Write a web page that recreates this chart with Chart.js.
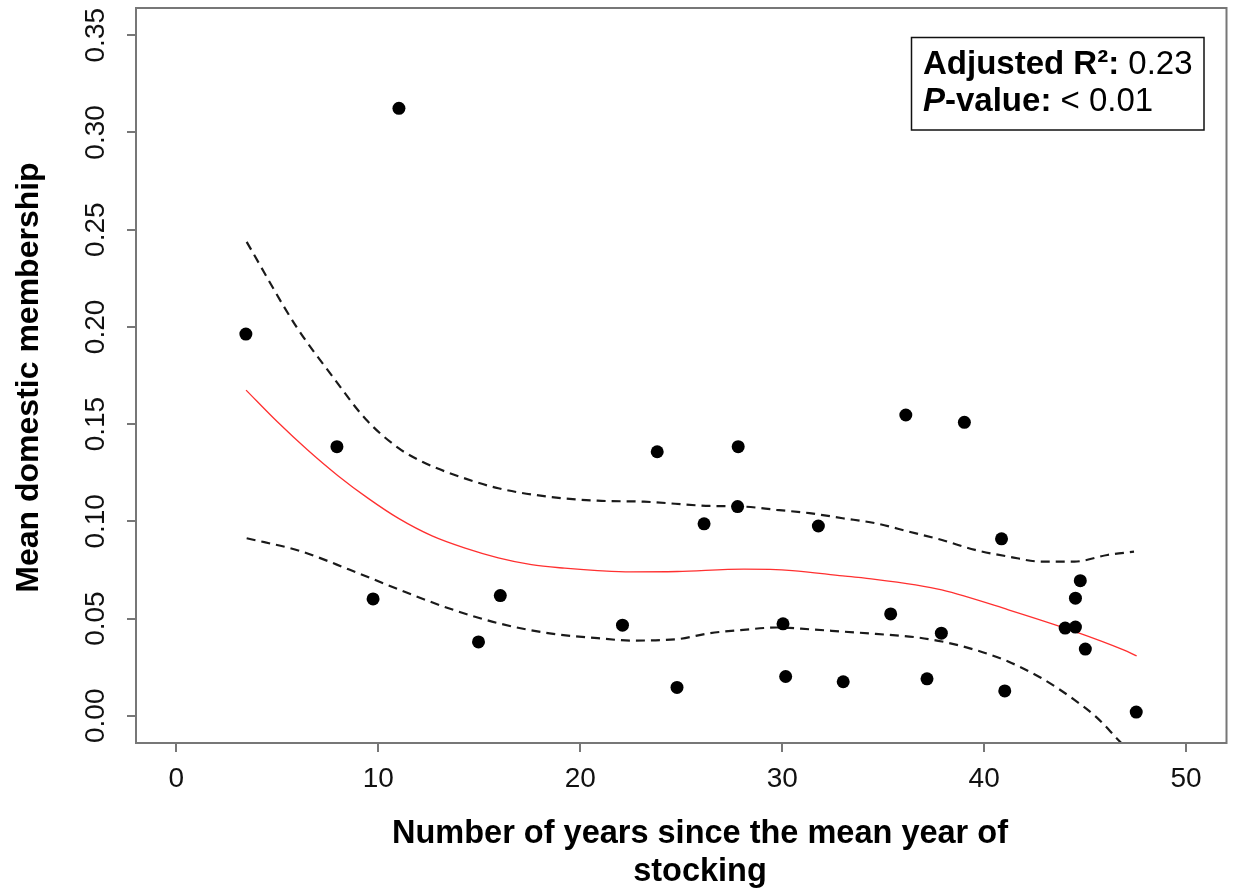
<!DOCTYPE html>
<html><head><meta charset="utf-8">
<script src="https://cdn.jsdelivr.net/npm/chart.js@4.4.1/dist/chart.umd.min.js"></script>
<style>html,body{margin:0;padding:0;background:#fff;}#wrap{width:1233px;height:890px;position:relative;}</style>
</head><body><div id="wrap"><canvas id="c" width="1233" height="890"></canvas></div>
<script>
// ---- data ----
const pointX = [3.44, 7.95, 9.74, 11.02, 14.96, 16.04, 22.09, 23.81, 24.79, 26.13, 27.82, 27.79, 30.04, 30.17, 31.79, 33.02, 35.37, 36.12, 37.17, 37.88, 39.02, 40.86, 41.02, 44.01, 44.52, 44.52, 44.76, 45.01, 47.53];
const pointY = [0.1963, 0.1384, 0.0601, 0.3124, 0.0380, 0.0618, 0.0466, 0.1358, 0.0146, 0.0987, 0.1384, 0.1076, 0.0473, 0.0202, 0.0976, 0.0175, 0.0524, 0.1547, 0.0190, 0.0425, 0.1509, 0.0910, 0.0128, 0.0451, 0.0605, 0.0456, 0.0695, 0.0343, 0.0019];

const fitX = [3.45, 5.0, 6.5, 8.0, 9.5, 11.0, 12.66, 14.3, 15.94, 17.58, 19.22, 20.86, 22.5, 24.8, 28.1, 30.5, 33.0, 34.6, 36.6, 37.9, 41.2, 44.5, 46.9, 47.55];
const fitY = [0.1675, 0.1512, 0.1367, 0.1235, 0.1118, 0.1015, 0.0925, 0.0862, 0.0812, 0.0777, 0.0759, 0.0747, 0.0740, 0.0742, 0.0754, 0.0747, 0.0719, 0.0702, 0.0673, 0.0647, 0.0545, 0.0433, 0.0339, 0.0308];

const upperX = [3.48, 5.94, 7.74, 9.38, 11.02, 12.2, 13.48, 15.94, 18.4, 20.86, 23.15, 26.43, 28.07, 29.71, 31.35, 32.99, 34.63, 36.27, 37.91, 39.55, 41.19, 42.83, 44.47, 46.1, 47.42];
const upperY = [0.2437, 0.2001, 0.1744, 0.1525, 0.1375, 0.1305, 0.1250, 0.1170, 0.1127, 0.1106, 0.1101, 0.1079, 0.1076, 0.1059, 0.1042, 0.1016, 0.0990, 0.0947, 0.0904, 0.0853, 0.0819, 0.0793, 0.0793, 0.0827, 0.0844];

const lowerX = [3.48, 6.1, 8.56, 11.02, 13.48, 15.94, 18.4, 20.86, 22.5, 24.79, 26.43, 28.07, 29.71, 31.35, 32.99, 34.63, 36.6, 37.91, 39.55, 41.19, 42.83, 44.47, 45.61, 46.63, 47.55];
const lowerY = [0.0913, 0.0848, 0.0752, 0.0649, 0.0553, 0.0476, 0.0425, 0.0399, 0.0387, 0.0394, 0.0425, 0.0442, 0.0454, 0.0445, 0.0433, 0.0421, 0.0404, 0.0382, 0.0339, 0.0279, 0.0194, 0.0082, -0.0012, -0.0123, -0.0220];

const xTicks = [0, 10, 20, 30, 40, 50];
const xTickLabels = ['0', '10', '20', '30', '40', '50'];
const yTicks = [0, 0.05, 0.10, 0.15, 0.20, 0.25, 0.30, 0.35];
const yTickLabels = ['0.00', '0.05', '0.10', '0.15', '0.20', '0.25', '0.30', '0.35'];

const xTitleLines = ['Number of years since the mean year of', 'stocking'];
const yTitle = 'Mean domestic membership';
const statLine1 = [['Adjusted R\u00B2:', 'bold'], [' 0.23', 'normal']];
const statLine2 = [['P', 'italic bold'], ['-value:', 'bold'], [' < 0.01', 'normal']];

// ---- chart ----
const FONT = "'Liberation Sans', Arial, sans-serif";
const AXIS_GREY = '#777777';
function pairs(xs, ys) { return xs.map((x, i) => ({ x: x, y: ys[i] })); }
function zeroPad(s) { s.paddingTop = 0; s.paddingBottom = 0; s.paddingLeft = 0; s.paddingRight = 0; }

const decor = {
  id: 'decor',
  afterDraw(chart) {
    const ctx = chart.ctx;
    const a = chart.chartArea;
    ctx.save();
    // plot frame
    ctx.strokeStyle = AXIS_GREY;
    ctx.lineWidth = 2;
    ctx.strokeRect(a.left, a.top, a.right - a.left, a.bottom - a.top);
    // x title
    ctx.fillStyle = '#000';
    ctx.font = "bold 32.5px " + FONT;
    ctx.textAlign = 'center';
    ctx.textBaseline = 'alphabetic';
    ctx.fillText(xTitleLines[0], 700, 843);
    ctx.fillText(xTitleLines[1], 700, 881);
    // y title
    ctx.save();
    ctx.translate(38, 377.5);
    ctx.rotate(-Math.PI / 2);
    ctx.font = "bold 32px " + FONT;
    ctx.fillText(yTitle, 0, 0);
    ctx.restore();
    // stats box
    ctx.strokeStyle = '#111';
    ctx.lineWidth = 1.5;
    ctx.strokeRect(911.5, 37.5, 292.5, 92.5);
    ctx.textAlign = 'left';
    function drawRuns(runs, x, y) {
      runs.forEach(r => {
        ctx.font = r[1] + " 33px " + FONT;
        ctx.fillText(r[0], x, y);
        x += ctx.measureText(r[0]).width;
      });
    }
    drawRuns(statLine1, 923, 74);
    drawRuns(statLine2, 923, 110.5);
    ctx.restore();
  }
};

new Chart(document.getElementById('c'), {
  type: 'scatter',
  data: {
    datasets: [
      { data: pairs(pointX, pointY), pointRadius: 6.5, pointBorderWidth: 0, backgroundColor: '#000', borderColor: '#000', showLine: false, order: 0 },
      { data: pairs(fitX, fitY), showLine: true, pointRadius: 0, borderColor: '#ff3030', borderWidth: 1.3, cubicInterpolationMode: 'monotone', clip: 0, order: 1 },
      { data: pairs(upperX, upperY), showLine: true, pointRadius: 0, borderColor: '#1a1a1a', borderWidth: 2.2, borderDash: [9, 6], cubicInterpolationMode: 'monotone', clip: 0, order: 2 },
      { data: pairs(lowerX, lowerY), showLine: true, pointRadius: 0, borderColor: '#1a1a1a', borderWidth: 2.2, borderDash: [9, 6], cubicInterpolationMode: 'monotone', clip: 0, order: 3 }
    ]
  },
  options: {
    responsive: false,
    animation: false,
    events: [],
    layout: { padding: { top: 8, right: 1.5, left: 0, bottom: 0 } },
    plugins: { legend: { display: false }, tooltip: { enabled: false }, title: { display: false } },
    scales: {
      x: {
        type: 'linear', min: -2, max: 52,
        afterBuildTicks(s) { s.ticks = xTicks.map(v => ({ value: v })); },
        afterFit(s) { s.height = 147; zeroPad(s); },
        border: { display: false },
        grid: { display: true, drawOnChartArea: false, drawTicks: true, tickLength: 9, lineWidth: 2, color: AXIS_GREY },
        ticks: { autoSkip: false, maxRotation: 0, padding: 10, color: '#111', font: { family: FONT, size: 28 },
          callback: (v, i) => xTickLabels[i] }
      },
      y: {
        type: 'linear', min: -0.014, max: 0.364,
        afterBuildTicks(s) { s.ticks = yTicks.map(v => ({ value: v })); },
        afterFit(s) { s.width = 136; zeroPad(s); },
        border: { display: false },
        grid: { display: true, drawOnChartArea: false, drawTicks: true, tickLength: 9, lineWidth: 2, color: AXIS_GREY },
        ticks: { autoSkip: false, minRotation: 90, maxRotation: 90, crossAlign: 'center', padding: 3, color: '#111', font: { family: FONT, size: 28 },
          callback: (v, i) => yTickLabels[i] }
      }
    }
  },
  plugins: [decor]
});
</script>
</body></html>
